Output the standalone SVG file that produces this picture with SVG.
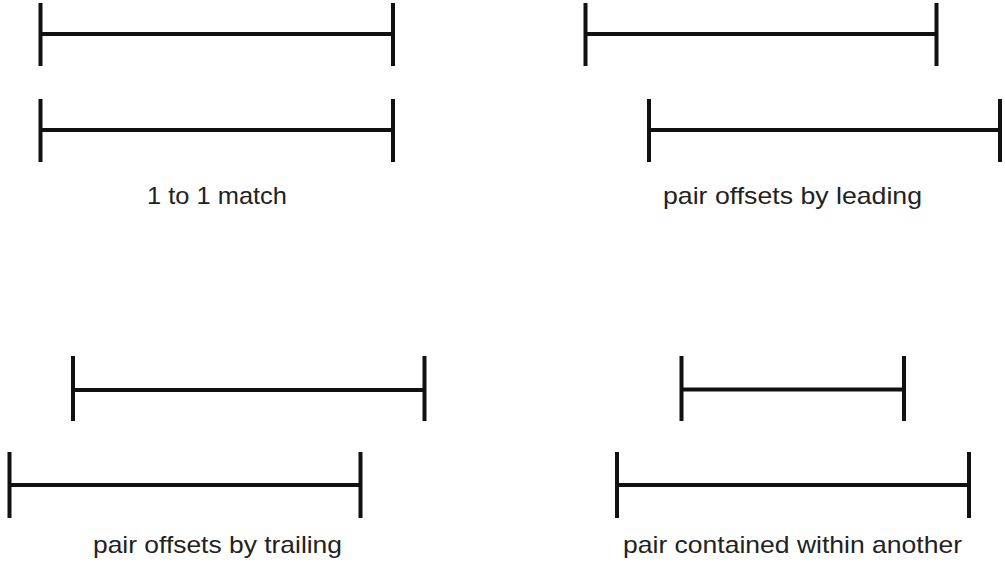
<svg xmlns="http://www.w3.org/2000/svg" width="1005" height="567" viewBox="0 0 1005 567">
<style>
.bar{stroke:#111;stroke-width:4;fill:none}
.lbl{font-family:"Liberation Sans",Arial,sans-serif;font-size:24px;fill:#222;text-anchor:middle}
</style>
<rect width="1005" height="567" fill="#fff"/>
<g id="match">
<path class="bar" d="M40.5 3V66M393 3V66M40.5 34H393"/>
<path class="bar" d="M40.5 99V162M393 99V162M40.5 130H393"/>
<text class="lbl" x="217" y="204" textLength="140" lengthAdjust="spacingAndGlyphs">1 to 1 match</text>
</g>
<g id="leading">
<path class="bar" d="M585.5 3V66M936.5 3V66M585.5 34H936.5"/>
<path class="bar" d="M649 99V162M1000 99V162M649 130H1000"/>
<text class="lbl" x="792.5" y="204" textLength="259" lengthAdjust="spacingAndGlyphs">pair offsets by leading</text>
</g>
<g id="trailing">
<path class="bar" d="M73 356V421M424.5 356V421M73 390H424.5"/>
<path class="bar" d="M9.5 452V518M360.5 452V518M9.5 485H360.5"/>
<text class="lbl" x="217.5" y="553" textLength="249" lengthAdjust="spacingAndGlyphs">pair offsets by trailing</text>
</g>
<g id="contained">
<path class="bar" d="M681.5 356V421M904 356V421M681.5 389.5H904"/>
<path class="bar" d="M617 452V518M969 452V518M617 485H969"/>
<text class="lbl" x="792.5" y="553" textLength="339" lengthAdjust="spacingAndGlyphs">pair contained within another</text>
</g>
<g id="connectors"/>
</svg>
